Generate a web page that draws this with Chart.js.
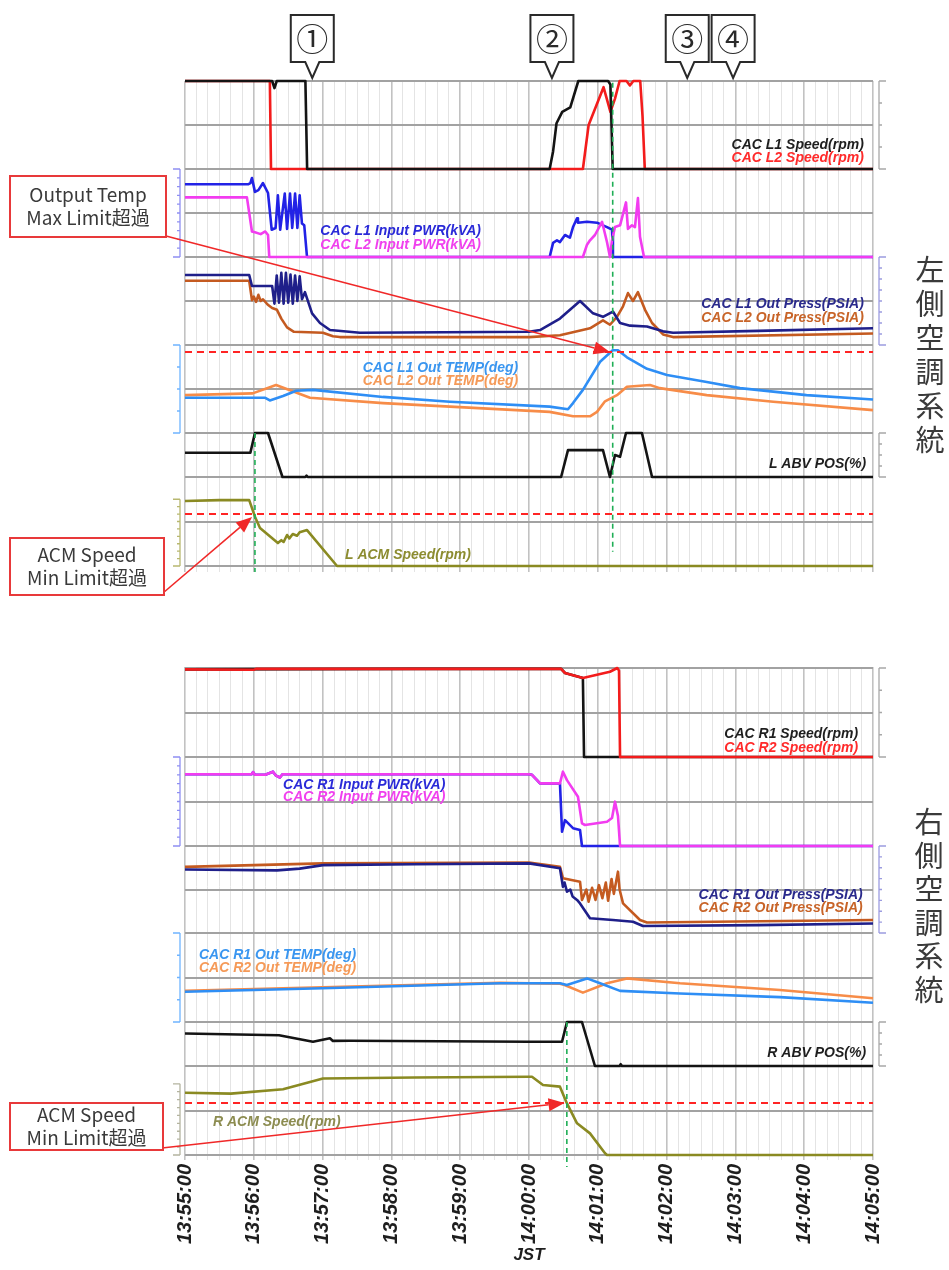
<!DOCTYPE html>
<html><head><meta charset="utf-8">
<script src="https://cdn.jsdelivr.net/npm/chart.js@4/dist/chart.umd.min.js"></script>
<style>html,body{margin:0;padding:0;background:#fff}#wrap{position:relative;width:949px;height:1270px}</style>
</head><body><div id="wrap"><canvas id="c"></canvas></div>
<script>
// ---------- x axis (seconds from 13:55:00) ----------
const xTickLabels = ['13:55:00','13:56:00','13:57:00','13:58:00','13:59:00','14:00:00','14:01:00','14:02:00','14:03:00','14:04:00','14:05:00'];
const xMin = 0, xMax = 600;

// ---------- left system (values are % of each panel's range) ----------
const cacL1Speed = [[0,100],[76,100],[78,92],[80,100],[105,100],[106.5,0],[318,0],[321,20],[324,52],[329,65],[336,70],[343,100],[369,100],[371,96],[373,0],[600,0]];
const cacL2Speed = [[0,100],[74,100],[75,0],[347,0],[352,50],[365,93],[371,65],[375,80],[379,100],[385,100],[388,95],[391,100],[397,100],[399,60],[401,0],[600,0]];
const cacL1Pwr = [[0,82.6],[55,82.6],[57,84],[58.4,89.8],[61,74],[64,76],[68,84],[72.4,72.7],[75.6,31],[79,33],[81,70],[83,31],[87,72],[89,32],[91.6,72],[93.5,33],[96,72],[98,33],[100,70],[102,38],[104,36],[106.4,0],[318,0],[321,16],[324.4,19],[327,17],[331.4,25],[335.7,22],[338.4,34],[341.9,44],[342.7,39],[350.6,40],[359.3,39],[368,34],[372.4,31],[373.2,0],[600,0]];
const cacL2Pwr = [[0,67.8],[54,67.8],[58.4,29],[61,28],[66,26],[70,29],[72.4,25],[73.5,0],[347,0],[350.6,14],[353.2,19],[357.5,25],[363.7,40],[368,17],[370.6,0],[372.4,19],[375,34],[379.4,36],[384.6,62],[386.3,32],[389.8,36],[392.4,34],[395,67],[396.8,23],[400.3,0],[600,0]];
const cacL1Press = [[0,79.5],[56,79.5],[58.4,67],[76,67],[78,47],[80,79],[82,48],[84,82],[86,47],[88,82],[90,48],[92,80],[94,47],[96,79],[98,50],[100,78],[102,52],[104.6,60],[110.8,36],[117.7,25],[126.4,17],[152.6,14],[300,15],[309.6,17],[327,30],[344.5,50],[355.8,36],[364.5,32],[373.2,38],[379.4,25],[388.1,22],[402.9,21],[416.9,15.5],[425.6,14],[500,16],[600,19]];
const cacL2Press = [[0,73],[56,73],[58.4,51],[60,55],[62,49],[64,57],[66,50],[68,52],[72,46],[76,42],[80.2,40],[84,30],[89,20],[95,15],[120.3,14],[129,10],[135,9],[300,9],[327,11],[353.2,19],[364.5,28],[370.6,23],[376.7,32],[382,44],[386.3,59],[390.7,50],[395,60],[401.2,40],[407.3,25],[416.9,12],[425.6,9],[600,13]];
const cacL1Temp = [[0,40],[70,40],[74,37],[85.5,42],[97,48],[111.6,49],[172.7,41],[231,35.6],[318,30],[334,27],[338.4,34],[347,49],[362,81],[373,94],[377.6,94],[385.4,86],[402.9,73],[420.3,66],[455,58],[484,51],[542,43],[600,38]];
const cacL2Temp = [[0,43],[59,45],[79.4,54.5],[109,40],[172.7,34],[231,30],[318,24],[338.4,19],[353.2,19],[359.3,24],[366.3,36],[376.7,43],[385.4,52.6],[405.5,54.5],[414,51],[455,43],[513,35.6],[600,26]];
const lAbvPos = [[0,55],[57,55],[61,100],[72.4,100],[85,0],[105,0],[106,3],[107,0],[328,0],[334,61],[364.5,61],[370.6,0],[375,50],[379.4,46],[384.6,100],[398.5,100],[407.3,0],[600,0]];
const lAcmSpeed = [[0,73],[30,74],[56,74],[61,55.4],[65.4,42.7],[81,25.8],[84,29],[86,27],[89,34.8],[91,31],[94,36],[97.7,34],[100,38],[106.4,40.4],[132.6,0],[600,0]];

// ---------- right system ----------
const cacR1Speed = [[0,98.5],[200,99],[328,99],[331.4,94.4],[347,88.8],[348,0],[600,0]];
const cacR2Speed = [[0,98.5],[60,98],[62,99],[200,99],[328,99],[331.4,94.4],[347,88.8],[370.6,95.8],[377,100],[378.5,97],[379.4,0],[600,0]];
const cacR1Pwr = [[0,80.6],[58,80.6],[59.3,83],[61,80],[70,80],[76.7,83.5],[79.4,79],[82.8,77],[85,80.6],[300,80.6],[302.6,80],[307,74],[309.6,70.4],[327,70.4],[328.8,16],[331.4,29],[338.4,20],[344.5,18],[346.2,0],[600,0]];
const cacR2Pwr = [[0,80.6],[58,80.6],[59.3,83],[61,80],[70,80],[76.7,83.5],[79.4,79],[82.8,77],[85,80.6],[300,80.6],[302.6,80],[307,74],[309.6,70.4],[327,70.4],[329.6,83.5],[333.1,74],[342.7,55.4],[346.2,25.5],[348.8,23.6],[368,27.3],[372.4,31.5],[375,49.8],[377.6,33.7],[379.4,0],[600,0]];
const cacR1Press = [[0,73],[80.2,72],[100,74],[120.3,78],[200,79],[300,80],[327,74.4],[329.6,53],[331,58],[333.1,47.5],[336,50],[338,42],[341.9,38],[344.5,34],[353.2,17],[373.2,15],[390.7,13],[399.4,8],[500,9],[600,11]];
const cacR2Press = [[0,76],[120.3,80],[300,81],[327,76],[329.6,63],[344.5,59],[346.2,38],[350,50],[352,36],[355,52],[358,38],[361,55],[364,40],[367,58],[369,37],[372,62],[374,45],[377.6,70.5],[379,50],[382,34],[396.8,15],[402.9,12],[600,15]];
const cacR1Temp = [[0,34],[120,38],[274.7,43.5],[327,43.5],[333,41.6],[350.6,49],[362,43.5],[379.4,35],[431.7,32],[518.9,28],[600,21.7]];
const cacR2Temp = [[0,35],[120,39],[274.7,44],[327,43],[331,41.6],[347,33],[368,43.5],[385.4,49],[431.7,43.5],[518.9,36],[600,26.6]];
const rAbvPos = [[0,74],[82,70],[111.6,55],[126.4,63],[129,57],[143.9,57.5],[300,55],[328.8,55],[333.1,100],[346.2,100],[357.5,0],[379,0],[380,4],[381,0],[600,0]];
const rAcmSpeed = [[0,70],[40,69],[85.5,73.8],[120.3,86],[200,87],[300,88],[302.6,88],[312.2,78.7],[327,76.8],[333.1,58],[341.9,35.6],[353.2,24.3],[366.3,2],[368,0],[600,0]];

// ---------- limits & events ----------
const tempMaxLimit = 92;
const acmMinLimit = 58.4;
const eventTimes = [111, 320, 438, 478];
const eventLabels = ['①','②','③','④'];
const markerTimes = [373, 61, 333];

// ---------- build ----------
const toXY = a => a.map(([x, y]) => ({x, y}));
function ds(data, axis, color, width, dash) {
  return {data: toXY(data), yAxisID: axis, borderColor: color, backgroundColor: color,
    borderWidth: width || 2.6, pointRadius: 0, fill: false, tension: 0, clip: 3,
    borderDash: dash || [], borderJoinStyle: 'round', borderCapStyle: 'butt'};
}
const limit = (v, axis) => ds([[xMin, v], [xMax, v]], axis, '#ff2424', 2, [7, 5]);

const datasets = [
  limit(tempMaxLimit, 'p4'), limit(acmMinLimit, 'p6'), limit(acmMinLimit, 'p12'),
  ds(cacL1Speed, 'p1', '#141414'), ds(cacL2Speed, 'p1', '#f31c1c'),
  ds(cacL2Pwr, 'p2', '#f23cf0'), ds(cacL1Pwr, 'p2', '#2222e6'),
  ds(cacL1Press, 'p3', '#1f1f8a'), ds(cacL2Press, 'p3', '#c45a20'),
  ds(cacL1Temp, 'p4', '#2e8ef5'), ds(cacL2Temp, 'p4', '#f78c48'),
  ds(lAbvPos, 'p5', '#141414'), ds(lAcmSpeed, 'p6', '#8a8a22'),
  ds(cacR2Speed, 'p7', '#f31c1c'), ds(cacR1Speed, 'p7', '#141414'),
  ds(cacR2Pwr, 'p8', '#f23cf0'), ds(cacR1Pwr, 'p8', '#2222e6'),
  ds(cacR1Press, 'p9', '#1f1f8a'), ds(cacR2Press, 'p9', '#c45a20'),
  ds(cacR1Temp, 'p10', '#2e8ef5'), ds(cacR2Temp, 'p10', '#f78c48'),
  ds(rAbvPos, 'p11', '#141414'), ds(rAcmSpeed, 'p12', '#8a8a22')
];

function yScale(weight, step, showGrid) {
  return {type: 'linear', position: 'left', stack: 'panels', stackWeight: weight, min: 0, max: 100,
    display: true, ticks: {display: false, stepSize: step},
    grid: {display: showGrid !== false, color: '#a2a2a2', lineWidth: 2, drawTicks: false},
    border: {display: false}, afterFit: s => { s.width = 0; }};
}

const panelLabels = [
  {axis: 'p1', t: 592, v: 27, align: 'right', color: '#1e1e1e', text: 'CAC L1 Speed(rpm)'},
  {axis: 'p1', t: 592, v: 12.5, align: 'right', color: '#ff2a2a', text: 'CAC L2 Speed(rpm)'},
  {axis: 'p2', t: 118, v: 29, align: 'left', color: '#2a2ad8', text: 'CAC L1 Input PWR(kVA)'},
  {axis: 'p2', t: 118, v: 13, align: 'left', color: '#f040ee', text: 'CAC L2 Input PWR(kVA)'},
  {axis: 'p3', t: 592, v: 46, align: 'right', color: '#2a2a8c', text: 'CAC L1 Out Press(PSIA)'},
  {axis: 'p3', t: 592, v: 30.5, align: 'right', color: '#c86428', text: 'CAC L2 Out Press(PSIA)'},
  {axis: 'p4', t: 155, v: 74, align: 'left', color: '#3a96f0', text: 'CAC L1 Out TEMP(deg)'},
  {axis: 'p4', t: 155, v: 58.5, align: 'left', color: '#f59a58', text: 'CAC L2 Out TEMP(deg)'},
  {axis: 'p5', t: 594, v: 29.5, align: 'right', color: '#1e1e1e', text: 'L ABV POS(%)'},
  {axis: 'p6', t: 139.5, v: 12.4, align: 'left', color: '#8c8c30', text: 'L ACM Speed(rpm)'},
  {axis: 'p7', t: 587, v: 25.8, align: 'right', color: '#1e1e1e', text: 'CAC R1 Speed(rpm)'},
  {axis: 'p7', t: 587, v: 10.5, align: 'right', color: '#ff2a2a', text: 'CAC R2 Speed(rpm)'},
  {axis: 'p8', t: 85.5, v: 68.5, align: 'left', color: '#2a2ad8', text: 'CAC R1 Input PWR(kVA)'},
  {axis: 'p8', t: 85.5, v: 54.5, align: 'left', color: '#f040ee', text: 'CAC R2 Input PWR(kVA)'},
  {axis: 'p9', t: 591, v: 43.7, align: 'right', color: '#2a2a8c', text: 'CAC R1 Out Press(PSIA)'},
  {axis: 'p9', t: 591, v: 28, align: 'right', color: '#c86428', text: 'CAC R2 Out Press(PSIA)'},
  {axis: 'p10', t: 12.2, v: 75.3, align: 'left', color: '#3a96f0', text: 'CAC R1 Out TEMP(deg)'},
  {axis: 'p10', t: 12.2, v: 60.7, align: 'left', color: '#f59a58', text: 'CAC R2 Out TEMP(deg)'},
  {axis: 'p11', t: 594, v: 29.5, align: 'right', color: '#1e1e1e', text: 'R ABV POS(%)'},
  {axis: 'p12', t: 24.4, v: 37, align: 'left', color: '#8c8c50', text: 'R ACM Speed(rpm)'}
];

const brackets = [
  {axis: 'p1', side: 'right', color: '#a8a8a8', n: 4, from: 0, to: 100},
  {axis: 'p2', side: 'left', color: '#8f8ff2', n: 10, from: 0, to: 100},
  {axis: 'p3', side: 'right', color: '#9c9ce0', n: 8, from: 0, to: 100},
  {axis: 'p4', side: 'left', color: '#6fb4ff', n: 4, from: 0, to: 100},
  {axis: 'p5', side: 'right', color: '#a8a8a8', n: 4, from: 0, to: 100},
  {axis: 'p6', side: 'left', color: '#b8b870', n: 9, from: 0, to: 75},
  {axis: 'p7', side: 'right', color: '#a8a8a8', n: 4, from: 0, to: 100},
  {axis: 'p8', side: 'left', color: '#8f8ff2', n: 10, from: 0, to: 100},
  {axis: 'p9', side: 'right', color: '#9c9ce0', n: 8, from: 0, to: 100},
  {axis: 'p10', side: 'left', color: '#6fb4ff', n: 4, from: 0, to: 100},
  {axis: 'p11', side: 'right', color: '#a8a8a8', n: 4, from: 0, to: 100},
  {axis: 'p12', side: 'left', color: '#b4b4a0', n: 9, from: 0, to: 80}
];

function arrow(ctx, x1, y1, x2, y2, color) {
  const a = Math.atan2(y2 - y1, x2 - x1), L = 16, W = 6.5;
  const bx = x2 - L * Math.cos(a), by = y2 - L * Math.sin(a);
  ctx.strokeStyle = color; ctx.fillStyle = color; ctx.lineWidth = 1.6;
  ctx.beginPath(); ctx.moveTo(x1, y1); ctx.lineTo(bx, by); ctx.stroke();
  ctx.beginPath(); ctx.moveTo(x2, y2);
  ctx.lineTo(bx - W * Math.sin(a), by + W * Math.cos(a));
  ctx.lineTo(bx + W * Math.sin(a), by - W * Math.cos(a));
  ctx.closePath(); ctx.fill();
}
function noteBox(ctx, x, y, w, h, lines) {
  ctx.fillStyle = '#fff'; ctx.fillRect(x, y, w, h);
  ctx.strokeStyle = '#e8393a'; ctx.lineWidth = 2; ctx.strokeRect(x, y, w, h);
  ctx.fillStyle = '#3a3a3a'; ctx.font = '19px "Noto Sans CJK JP", "Noto Sans", sans-serif';
  ctx.textAlign = 'center'; ctx.textBaseline = 'middle';
  const gap = 23, cy = y + h / 2;
  lines.forEach((s, i) => ctx.fillText(s, x + w / 2, cy + (i - (lines.length - 1) / 2) * gap));
}

const decor = {
  id: 'decor',
  beforeDatasetsDraw(chart) {
    const {ctx, chartArea, scales} = chart;
    const g = scales.gap;
    ctx.save();
    ctx.fillStyle = '#fff';
    ctx.fillRect(chartArea.left - 3, g.top + 6, chartArea.right - chartArea.left + 6, g.bottom - g.top - 7);
    ctx.restore();
  },
  afterDatasetsDraw(chart) {
    const {ctx, chartArea, scales} = chart;
    const X = t => scales.x.getPixelForValue(t);
    const Y = (id, v) => scales[id].getPixelForValue(v);
    ctx.save();
    // green dashed markers
    ctx.strokeStyle = '#1fae55'; ctx.lineWidth = 1.6; ctx.setLineDash([5, 4]);
    const greens = [[markerTimes[0], Y('p1', 98), Y('p6', 16)], [markerTimes[1], Y('p5', 100), Y('p6', 0) + 6], [markerTimes[2], Y('p11', 100), Y('p12', 0) + 12]];
    greens.forEach(([t, y1, y2]) => { ctx.beginPath(); ctx.moveTo(X(t), y1); ctx.lineTo(X(t), y2); ctx.stroke(); });
    ctx.setLineDash([]);
    // brackets
    brackets.forEach(b => {
      const s = scales[b.axis];
      const y0 = s.getPixelForValue(b.from), y1 = s.getPixelForValue(b.to);
      const x = b.side === 'right' ? chartArea.right + 6 : chartArea.left - 5;
      const dir = b.side === 'right' ? 1 : -1;
      ctx.strokeStyle = b.color; ctx.lineWidth = 1.3;
      ctx.beginPath(); ctx.moveTo(x, y0); ctx.lineTo(x, y1);
      ctx.moveTo(x, y0); ctx.lineTo(x + dir * 7, y0);
      ctx.moveTo(x, y1); ctx.lineTo(x + dir * 7, y1);
      for (let i = 1; i < b.n; i++) { const yy = y0 + (y1 - y0) * i / b.n; ctx.moveTo(x, yy); ctx.lineTo(x + dir * 3, yy); }
      ctx.stroke();
    });
    // panel labels
    ctx.font = 'italic bold 14px "Liberation Sans", Arial, sans-serif';
    ctx.textBaseline = 'middle';
    panelLabels.forEach(l => { ctx.fillStyle = l.color; ctx.textAlign = l.align; ctx.fillText(l.text, X(l.t), Y(l.axis, l.v)); });
    // event callouts
    eventTimes.forEach((t, i) => {
      const tx = X(t), w = 43, top = 15, bot = 62, tipY = 78;
      ctx.beginPath();
      ctx.moveTo(tx - w / 2, top); ctx.lineTo(tx + w / 2, top); ctx.lineTo(tx + w / 2, bot);
      ctx.lineTo(tx + 7, bot); ctx.lineTo(tx, tipY); ctx.lineTo(tx - 7, bot); ctx.lineTo(tx - w / 2, bot); ctx.closePath();
      ctx.fillStyle = '#fff'; ctx.fill(); ctx.strokeStyle = '#2a2a2a'; ctx.lineWidth = 2; ctx.stroke();
      ctx.fillStyle = '#2a2a2a'; ctx.font = '32px "Noto Sans CJK JP", sans-serif';
      ctx.textAlign = 'center'; ctx.textBaseline = 'middle';
      ctx.fillText(eventLabels[i], tx, 39);
    });
    // notes + arrows
    arrow(ctx, 166, 236, X(370.5), Y('p4', tempMaxLimit), '#f02828');
    arrow(ctx, 163, 593, X(58.5), Y('p6', 55), '#f02828');
    arrow(ctx, 162, 1148, X(331), Y('p12', acmMinLimit), '#f02828');
    noteBox(ctx, 10, 176, 156, 61, ['Output Temp', 'Max Limit超過']);
    noteBox(ctx, 10, 538, 154, 57, ['ACM Speed', 'Min Limit超過']);
    noteBox(ctx, 10, 1103, 153, 47, ['ACM Speed', 'Min Limit超過']);
    // vertical system titles
    ctx.fillStyle = '#3a3a3a'; ctx.font = '29px "Noto Sans CJK JP", sans-serif';
    ctx.textAlign = 'center'; ctx.textBaseline = 'middle';
    [...'左側空調系統'].forEach((c, i) => ctx.fillText(c, 930, 270 + i * 34));
    [...'右側空調系統'].forEach((c, i) => ctx.fillText(c, 929, 822 + i * 33.5));
    ctx.restore();
  }
};

// stacked y axes are laid out bottom-up, so list them from the bottom panel to the top panel
const scalesCfg = {
  x: {type: 'linear', position: 'bottom', min: xMin, max: xMax,
    ticks: {stepSize: 10, autoSkip: false, maxRotation: 90, minRotation: 90, padding: 4, color: '#1e1e1e',
      font: {family: '"Liberation Sans", Arial, sans-serif', size: 20, weight: 'bold', style: 'italic'},
      callback: v => (v % 60 === 0 ? xTickLabels[v / 60] : '')},
    grid: {color: c => (c.tick && c.tick.value % 60 === 0 ? '#c2c2c2' : '#e4e4e4'),
      lineWidth: c => (c.tick && c.tick.value % 60 === 0 ? 1.6 : 1), tickLength: 5, drawTicks: true},
    border: {display: false},
    title: {display: true, text: 'JST', color: '#1e1e1e', padding: {top: 0, bottom: 4},
      font: {family: '"Liberation Sans", Arial, sans-serif', size: 17, weight: 'bold', style: 'italic'}},
    afterFit: s => { s.height = 115; }
  },
  p12: yScale(89, 50), p11: yScale(44, 100), p10: yScale(89, 50), p9: yScale(87, 50),
  p8: yScale(89, 50), p7: yScale(89, 50),
  gap: yScale(102, 100, false),
  p6: yScale(89, 50), p5: yScale(44, 100),
  p4: yScale(88, 50), p3: yScale(88, 50), p2: yScale(88, 50), p1: yScale(88, 50)
};

new Chart(document.getElementById('c'), {
  type: 'line',
  data: {datasets},
  options: {
    responsive: true, maintainAspectRatio: false, animation: false,
    layout: {padding: {left: 185, right: 76, top: 81, bottom: 0}},
    plugins: {legend: {display: false}, tooltip: {enabled: false}},
    scales: scalesCfg
  },
  plugins: [decor]
});
</script>
</body></html>
